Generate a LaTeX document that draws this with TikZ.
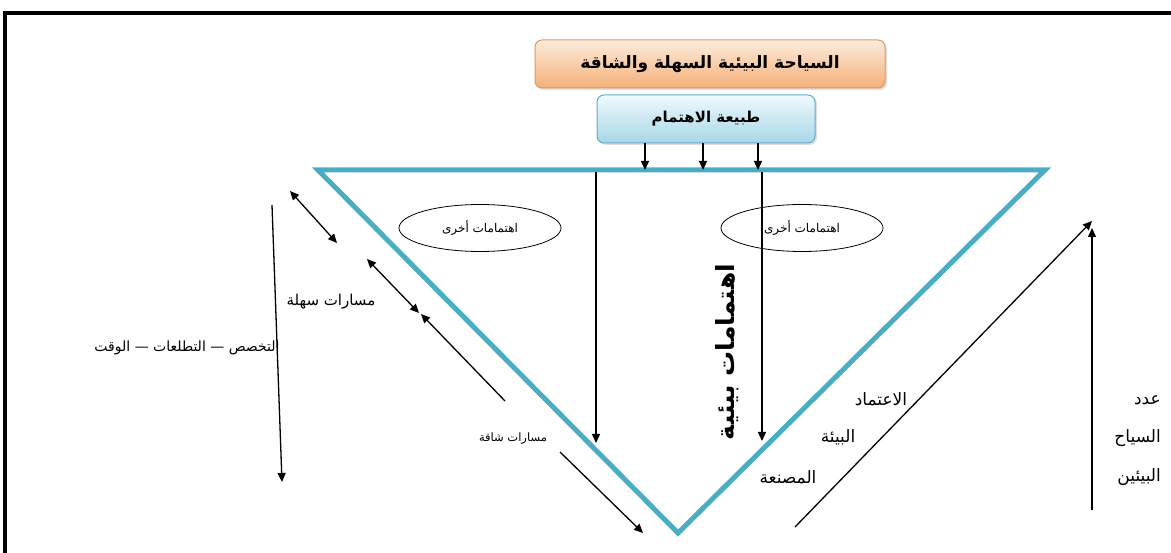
\documentclass[tikz,border=0pt]{standalone}
\usepackage{fontspec}
\newfontfamily\arabicfont[Script=Arabic]{DejaVu Sans}
\TeXXeTstate=1
\usetikzlibrary{arrows.meta,shapes.geometric,shadows}
\definecolor{tri}{RGB}{75,172,198}
\definecolor{orgtop}{RGB}{253,236,220}
\definecolor{orgbot}{RGB}{244,176,120}
\definecolor{orgline}{RGB}{228,150,100}
\definecolor{blutop}{RGB}{240,250,253}
\definecolor{blubot}{RGB}{168,214,230}
\definecolor{bluline}{RGB}{100,170,200}
\newcommand{\ar}[1]{\arabicfont\beginR #1\endR}
\tikzset{
  head/.style={-{Triangle[length=9pt,width=8pt]}, line width=1.3pt},
  dhead/.style={{Triangle[length=9pt,width=8pt]}-{Triangle[length=9pt,width=8pt]}, line width=1.3pt},
  titlebox/.style={draw=orgline, line width=1pt, rounded corners=7pt, top color=orgtop, bottom color=orgbot,
     minimum width=350pt, minimum height=48pt, drop shadow={opacity=0.25,shadow xshift=2pt,shadow yshift=-2pt}},
  subbox/.style={draw=bluline, line width=1pt, rounded corners=7pt, top color=blutop, bottom color=blubot,
     minimum width=218pt, minimum height=48pt, drop shadow={opacity=0.25,shadow xshift=2pt,shadow yshift=-2pt}},
  oval/.style={ellipse, draw, line width=0.8pt, minimum width=162pt, minimum height=47pt, inner sep=0pt},
  lbl/.style={inner sep=1pt, font=\fontsize{15}{17}\selectfont},
  rlbl/.style={inner sep=1pt, font=\fontsize{17}{19}\selectfont},
}
\begin{document}
\begin{tikzpicture}[x=1pt,y=-1pt]
\useasboundingbox (0,0) rectangle (1171,553);
% frame
\draw[line width=4.5pt] (5,553) -- (5,13) -- (1171,13);
% boxes
\node[titlebox] (title) at (710,64) {\fontsize{17}{20}\selectfont\bfseries\ar{السياحة البيئية السهلة والشاقة}};
\node[subbox] (sub) at (706,119) {\fontsize{15}{18}\selectfont\bfseries\ar{طبيعة الاهتمام}};
% triangle
\coordinate (tl) at (318,170);
\coordinate (tr) at (1045,170);
\coordinate (bt) at (678,533);
\draw[tri, line width=5pt, line join=miter] (tl) -- (tr) -- (bt) -- cycle;
% arrows from sub box
\coordinate (a1) at (645,170);
\coordinate (a2) at (703,170);
\coordinate (a3) at (758,170);
\draw[head] (sub.south -| a1) -- (a1);
\draw[head] (sub.south -| a2) -- (a2);
\draw[head] (sub.south -| a3) -- (a3);
% inner vertical arrows
\coordinate (v1s) at (596,172);
\coordinate (v1e) at (596,443);
\coordinate (v2s) at (762,172);
\coordinate (v2e) at (762,441);
\draw[head] (v1s) -- (v1e);
\draw[head] (v2s) -- (v2e);
% ovals
\node[oval] (o1) at (480,228) {\fontsize{12}{14}\selectfont\ar{اهتمامات أخرى}};
\node[oval] (o2) at (802,228) {\fontsize{12}{14}\selectfont\ar{اهتمامات أخرى}};
% rotated text
\node[rotate=90, inner sep=1pt] (env) at (727,352) {\fontsize{25}{30}\selectfont\bfseries\ar{اهتمامات بيئية}};
% left side arrows
\coordinate (d1a) at (290,191);
\coordinate (d1b) at (337,243);
\coordinate (d2a) at (367,259);
\coordinate (d2b) at (419,313);
\coordinate (d3a) at (505,401);
\coordinate (d3b) at (421,314);
\draw[dhead] (d1a) -- (d1b);
\draw[dhead] (d2a) -- (d2b);
\draw[head] (d3a) -- (d3b);
\coordinate (vl1) at (272,205);
\coordinate (vl2) at (282,482);
\draw[head] (vl1) -- (vl2);
\node[lbl] (easy) at (331,302) {\ar{مسارات سهلة}};
\node[lbl, font=\fontsize{14}{16}\selectfont] (spec) at (187,348) {\ar{التخصص — التطلعات — الوقت}};
\node[lbl, font=\fontsize{11.5}{13}\selectfont] (hard) at (513,439) {\ar{مسارات شاقة}};
\coordinate (h1) at (560,452);
\coordinate (h2) at (643,533);
\draw[head] (h1) -- (h2);
% right side arrows
\coordinate (r1) at (795,527);
\coordinate (r2) at (1092,221);
\draw[head] (r1) -- (r2);
\coordinate (u1) at (1092,510);
\coordinate (u2) at (1092,228);
\draw[head] (u1) -- (u2);
\node[rlbl] (dep) at (881,399) {\ar{الاعتماد}};
\node[rlbl] (envb) at (838,437) {\ar{البيئة}};
\node[rlbl] (made) at (788,477) {\ar{المصنعة}};
\node[rlbl, anchor=east] (num) at (1162,400) {\ar{عدد}};
\node[rlbl, anchor=east] (tour) at (1162,438) {\ar{السياح}};
\node[rlbl, anchor=east] (eco) at (1162,477) {\ar{البيئين}};
\end{tikzpicture}
\end{document}
